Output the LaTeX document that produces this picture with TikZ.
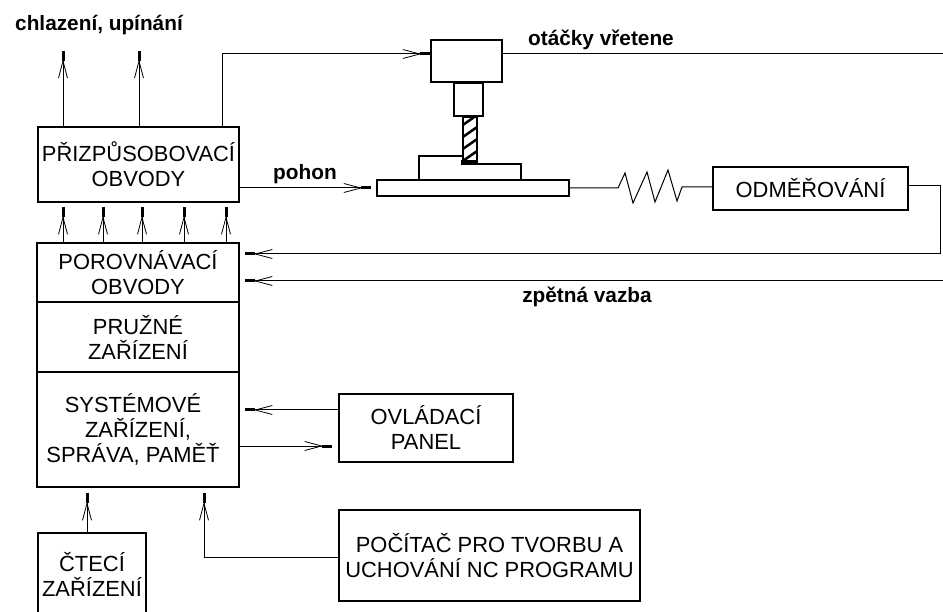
\documentclass[tikz,border=0pt]{standalone}
\usepackage{fontspec}
\setmainfont{Liberation Sans}
\usetikzlibrary{arrows.meta}
\tikzset{
  block/.style={draw, line width=2.5pt, align=center, inner sep=0pt, font=\fontsize{21.9}{25}\selectfont},
  sig/.style={line width=1pt, -{Straight Barb[length=17pt,width=9pt,line width=.8pt,sep=-1.5pt] Rectangle[length=10pt,width=3pt]}, shorten >=#1},
  sig/.default=5pt,
  wire/.style={line width=1pt},
  note/.style={anchor=base, inner sep=0pt, font=\fontsize{20.8}{25}\selectfont\bfseries},
  part/.style={draw, line width=2.2pt, inner sep=0pt, fill=white},
}
\begin{document}
\begin{tikzpicture}[x=1pt, y=-1pt]
  %tikz  rizeni NC stroje
    \useasboundingbox (0,0) rectangle (943,612);
    \node[block, minimum width=201pt, minimum height=75pt] (prizp) at (138.5,164.5) {PŘIZPŮSOBOVACÍ\\OBVODY};
    \node[block, minimum width=202pt, minimum height=59pt] (porov) at (138,272.5) {POROVNÁVACÍ\\OBVODY};
    \node[block, minimum width=202pt, minimum height=70pt] (pruzne) at (138,337) {PRUŽNÉ\\ZAŘÍZENÍ};
    \node[block, minimum width=202pt, minimum height=115pt] (syst) at (138,429.5) {SYSTÉMOVÉ\hspace*{10pt}\\ZAŘÍZENÍ,\\SPRÁVA, PAMĚŤ\hspace*{10pt}};
    \node[block, minimum width=108pt, minimum height=82pt] (cteci) at (92,574) {ČTECÍ\\ZAŘÍZENÍ};
    \node[block, minimum width=174pt, minimum height=68pt] (panel) at (426,428) {OVLÁDACÍ\\PANEL};
    \node[block, minimum width=301pt, minimum height=91pt] (pocitac) at (489.5,555.5) {POČÍTAČ PRO TVORBU A\\UCHOVÁNÍ NC PROGRAMU};
    \node[block, minimum width=195pt, minimum height=43pt] (odmer) at (810.5,188.5) {ODMĚŘOVÁNÍ};

    % stroj
    \node[part, minimum width=71pt, minimum height=42pt] (hlava) at (466.5,61) {};
    \node[part, minimum width=29pt, minimum height=33pt] (krk) at (468.5,99.5) {};
    \node[part, minimum width=192pt, minimum height=16pt] (stul) at (473,188) {};
    \draw[line width=2.2pt] (419,180) -- (419,156) -- (463,156);
    \draw[line width=2.2pt] (477,164) -- (521,164) -- (521,180);
    \begin{scope}
      \clip (463,117) rectangle (477,163);
      \foreach \y in {127,139,151,163}
        \draw[line width=2.5pt] (460,\y) -- (480,\y-14);
    \end{scope}
    \draw[line width=2.5pt] (463,117) rectangle (477,163);
    \fill (461,160) rectangle (478,165);

    % vystupy
    \coordinate (chlaz) at (63,51);
    \coordinate (upin) at (139,51);
    \coordinate (otacky) at (943,54);
    \coordinate (zpet) at (943,281);
    \draw[sig=0pt] (chlaz |- prizp.north) -- (chlaz);
    \draw[sig=0pt] (upin |- prizp.north) -- (upin);
    \draw[sig=0pt] (222,0 |- prizp.north) -- (222,54) -- (hlava.west |- 0,54);
    \draw[wire] (hlava.east |- otacky) -- (otacky);
    \foreach \x in {63,103,142,184,226}
      \draw[sig=4pt] (\x,0 |- porov.north) -- (\x,0 |- prizp.south);
    \draw[sig] (prizp.east |- stul) -- (stul.west);

    % mereni a zpetna vazba
    \draw[wire] (stul.east) -- (618,188) -- (625,173) -- (633,203) -- (647,172) -- (655,202) -- (668,170) -- (677,201) -- (682,187) -- (odmer.west |- 0,187);
    \draw[wire, sig] (odmer.east |- 0,186) -- (940,186) -- (940,254) -- (porov.east |- 0,254);
    \draw[sig] (zpet) -- (porov.east |- zpet);

    % spodni cast
    \draw[sig] (panel.west |- 0,410) -- (syst.east |- 0,410);
    \draw[sig=6pt] (syst.east |- 0,446) -- (panel.west |- 0,446);
    \draw[sig] (87,0 |- cteci.north) -- (87,0 |- syst.south);
    \draw[sig] (pocitac.west |- 0,557) -- (204,557) -- (204,0 |- syst.south);

    \node[note] (chl) at (99,31) {chlazení, upínání};
    \node[note] (poh) at (305,180) {pohon};
    \node[note] (ota) at (601,46) {otáčky vřetene};
    \node[note] (vaz) at (587,303) {zpětná vazba};
\end{tikzpicture}
\end{document}
